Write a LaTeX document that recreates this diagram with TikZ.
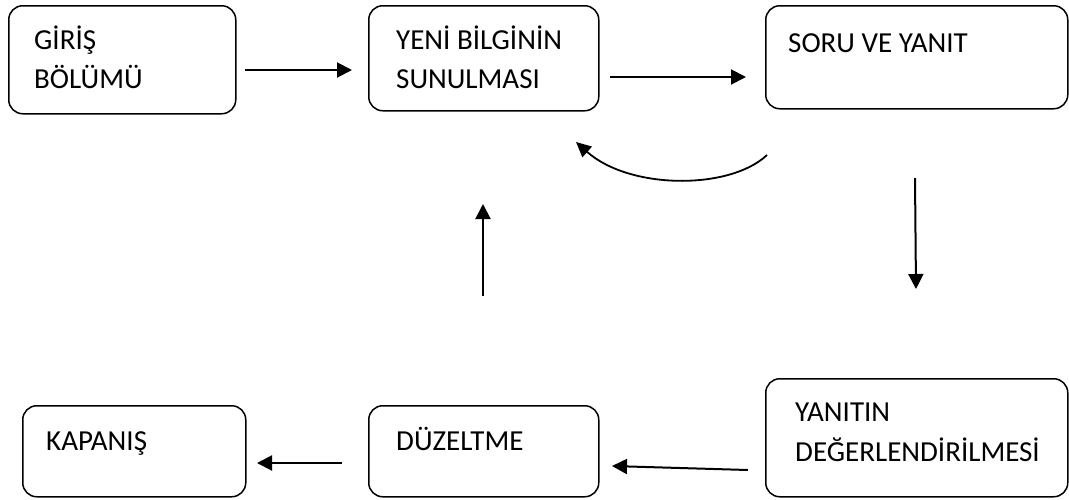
\documentclass[tikz,border=0pt]{standalone}
\usepackage{fontspec}
\setmainfont{Carlito}
\usetikzlibrary{arrows.meta}
\begin{document}
\begin{tikzpicture}[x=1pt,y=-1pt,
  box/.style={draw, line width=1.5pt, rounded corners=14pt, anchor=north west, inner sep=0pt},
  lbl/.style={anchor=base west, inner sep=0pt, font=\fontsize{29}{39}\selectfont},
  arr/.style={line width=2pt, -{Triangle[length=15pt,width=15pt]}}]
\useasboundingbox (0,0) rectangle (1069,499);
% boxes
\node[box, minimum width=227pt, minimum height=108pt] (b1) at (8,5) {};
\node[box, minimum width=230pt, minimum height=105pt] (b2) at (368,5) {};
\node[box, minimum width=302pt, minimum height=103pt] (b3) at (765,5) {};
\node[box, minimum width=223pt, minimum height=91pt] (b6) at (22,405) {};
\node[box, minimum width=230pt, minimum height=91pt] (b5) at (368,405) {};
\node[box, minimum width=302pt, minimum height=118pt] (b4) at (765,378) {};
% texts
\node[lbl] (t1a) at (34,49) {GİRİŞ};
\node[lbl] (t1b) at (34,88) {BÖLÜMÜ};
\node[lbl] (t2a) at (396,49) {YENİ BİLGİNİN};
\node[lbl] (t2b) at (396,88) {SUNULMASI};
\node[lbl] (t3) at (788,52) {SORU VE YANIT};
\node[lbl] (t4a) at (795,421) {YANITIN};
\node[lbl] (t4b) at (795,461) {DEĞERLENDİRİLMESİ};
\node[lbl] (t5) at (396,450) {DÜZELTME};
\node[lbl] (t6) at (46,450) {KAPANIŞ};
% arrow end points
\coordinate (a1s) at (245,70);  \coordinate (a1e) at (352,70);
\coordinate (a2s) at (610,77);  \coordinate (a2e) at (746,77);
\coordinate (a3s) at (767,155); \coordinate (a3e) at (576,142);
\coordinate (a4s) at (915,178); \coordinate (a4e) at (916,289);
\coordinate (a5s) at (748,470); \coordinate (a5e) at (612,466);
\coordinate (a6s) at (342,463); \coordinate (a6e) at (257,463);
\coordinate (a7s) at (483,296); \coordinate (a7e) at (483,204);
% arrows
\draw[arr] (a1s) -- (a1e);
\draw[arr] (a2s) -- (a2e);
\draw[line width=1.8pt, -{Triangle[length=15pt,width=14pt]}] (a3s) .. controls (730,190) and (630,190) .. (a3e);
\draw[arr] (a4s) -- (a4e);
\draw[arr] (a5s) -- (a5e);
\draw[arr] (a6s) -- (a6e);
\draw[arr] (a7s) -- (a7e);
\end{tikzpicture}
\end{document}
